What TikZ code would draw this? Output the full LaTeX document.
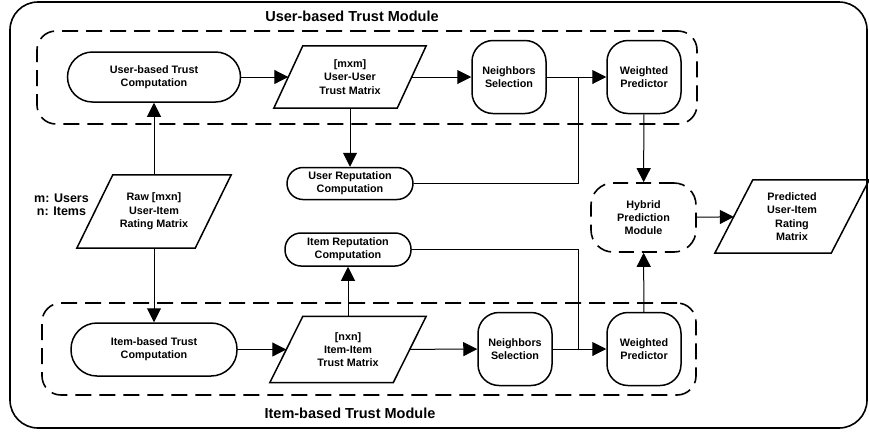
\documentclass[tikz,border=0pt]{standalone}
\usepackage{fontspec}
\setmainfont{Liberation Sans}
\usetikzlibrary{arrows.meta}

% parallelogram outline drawn over a (borderless) rectangular node
\newcommand\paraoutline[2]{%
  \draw[line width=1.5pt, line join=miter]
    ([xshift=#2]#1.north west) -- ([xshift=#2]#1.north east) --
    ([xshift=-#2]#1.south east) -- ([xshift=-#2]#1.south west) -- cycle;}

\begin{document}
\begin{tikzpicture}[x=1pt,y=-1pt,
  txt/.style={align=center, inner sep=0pt,
    font=\fontsize{10.8}{13.3}\selectfont\bfseries},
  box/.style={txt, draw, line width=1.5pt},
  pill/.style={box, rounded corners=#1},
  rbox/.style={box, rounded corners=21pt, minimum width=74pt, minimum height=73pt},
  para/.style={txt},
  module/.style={draw, line width=1.6pt, dash pattern=on 16pt off 8pt, rounded corners=19pt},
  title/.style={font=\fontsize{14.5}{16}\selectfont\bfseries, inner sep=0pt},
  conn/.style={line width=1pt, -{Triangle[length=14pt,width=14pt]}},
  link/.style={line width=1pt}]
\useasboundingbox (0,0) rectangle (869,432);

% outer frame
\node[draw, line width=1.6pt, rounded corners=28pt, minimum width=857pt,
      minimum height=426pt, inner sep=0pt] (frame) at (438.5,215) {};

% trust modules
\node[module, minimum width=660pt, minimum height=93pt] (umod) at (367,77.5) {};
\node[title] (utitle) at (352,16) {User-based Trust Module};
\node[module, minimum width=654pt, minimum height=92pt] (imod) at (369,349) {};
\node[title] (ititle) at (350,413) {Item-based Trust Module};

% user-based branch
\node[pill=25pt, minimum width=173pt, minimum height=50pt] (utc) at (154,77) {User-based Trust\\Computation};
\node[para, minimum width=123pt, minimum height=62pt] (uum) at (350,77) {[mxm]\\User-User\\Trust Matrix};
\paraoutline{uum}{14.5pt}
\node[rbox] (uns) at (509,77) {Neighbors\\Selection};
\node[rbox] (uwp) at (644,77) {Weighted\\Predictor};
\node[pill=16pt, minimum width=126pt, minimum height=32pt] (urep) at (350,183.5) {User Reputation\\Computation};
\coordinate (ujoin) at (578,77);

% input matrix
\node[para, minimum width=118pt, minimum height=73pt] (raw) at (154,211.5) {Raw [mxn]\\User-Item\\Rating Matrix};
\paraoutline{raw}{18pt}
\node[txt, font=\fontsize{12.5}{13}\selectfont\bfseries] (legend) at (61.5,205) {m: Users\\n: Items};

% item-based branch
\node[pill=16pt, minimum width=126pt, minimum height=33pt] (irep) at (348,249.5) {Item Reputation\\Computation};
\node[pill=26pt, minimum width=166pt, minimum height=53pt] (itc) at (154,349.5) {Item-based Trust\\Computation};
\node[para, minimum width=123pt, minimum height=66pt] (iim) at (348,349.5) {[nxn]\\Item-Item\\Trust Matrix};
\paraoutline{iim}{16.5pt}
\node[rbox] (ins) at (515,349) {Neighbors\\Selection};
\node[rbox] (iwp) at (644,349) {Weighted\\Predictor};
\coordinate (ijoin) at (578,349);

% hybrid prediction and output
\node[box, module, rounded corners=22pt, minimum width=105pt, minimum height=69pt,
      dash pattern=on 15pt off 8pt] (hyb) at (643.5,217.5) {Hybrid\\Prediction\\Module};
\node[para, minimum width=116pt, minimum height=73pt] (pred) at (792,216.5) {Predicted\\User-Item\\Rating\\Matrix};
\paraoutline{pred}{19pt}

% connectors
\draw[conn] (raw) -- (utc);
\draw[conn] (utc) -- (uum);
\draw[conn] (uum) -- (uns);
\draw[conn] (uns) -- (uwp);
\draw[conn] (uum) -- (urep);
\draw[link] (urep.east) -| (ujoin);
\draw[conn] (uwp) -- (hyb);

\draw[conn] (raw) -- (itc);
\draw[conn] (itc) -- (iim);
\draw[conn] (iim) -- (ins);
\draw[conn] (ins) -- (iwp);
\draw[conn] (iim) -- (irep);
\draw[link] (irep.east) -| (ijoin);
\draw[conn] (iwp) -- (hyb);

\draw[conn] (hyb) -- (pred);
\end{tikzpicture}
\end{document}
